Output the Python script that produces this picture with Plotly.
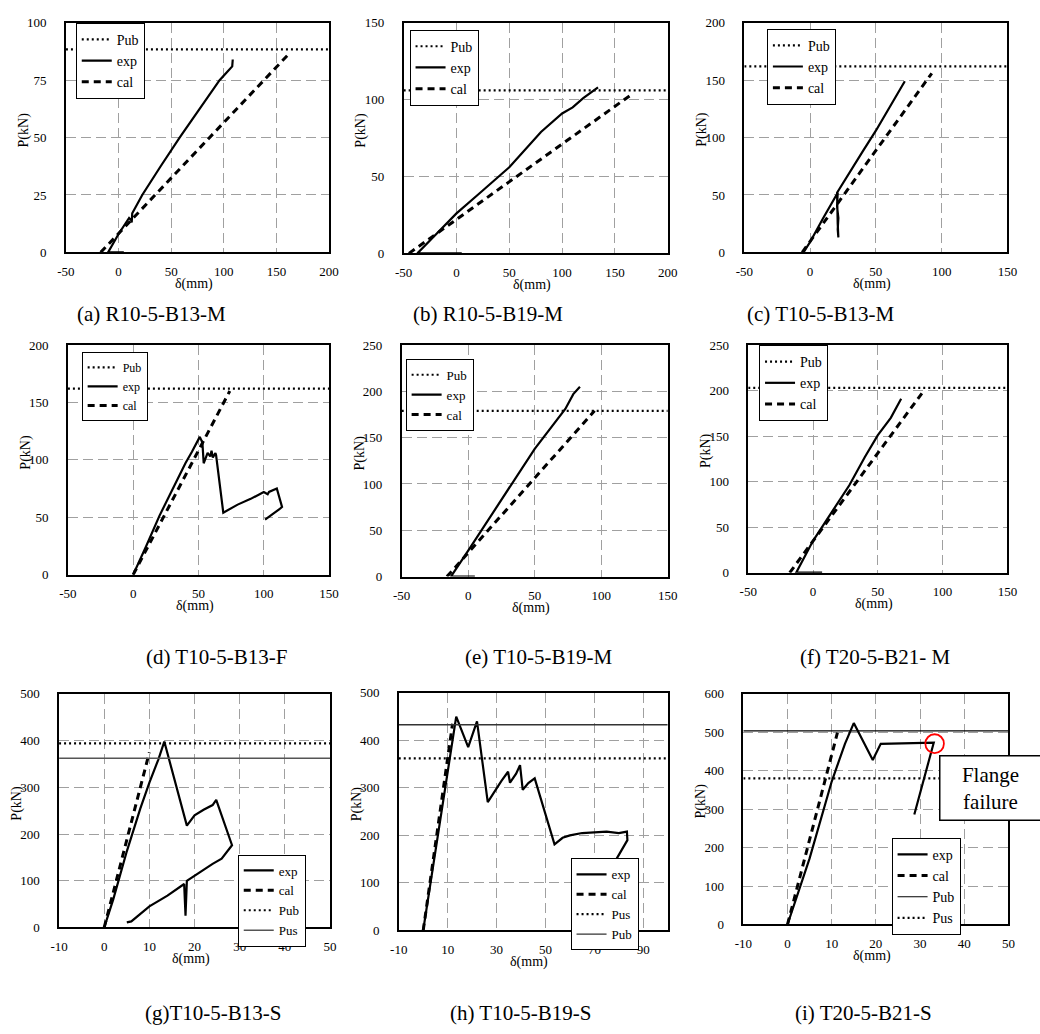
import plotly.graph_objects as go

W, H = 1040, 1034
FONT = "Liberation Serif, Times New Roman, serif"

# ---------------- data ----------------
captions = ["(a) R10-5-B13-M", "(b) R10-5-B19-M", "(c) T10-5-B13-M",
            "(d) T10-5-B13-F", "(e) T10-5-B19-M", "(f) T20-5-B21- M",
            "(g)T10-5-B13-S", "(h) T10-5-B19-S", "(i) T20-5-B21-S"]

a_exp_x = [5, -10, 0, 10, 12, 12.5, 13, 22.5, 40, 58, 77, 96, 104, 108, 108.5]
a_exp_y = [0, 0, 8, 15, 14, 13, 17, 25, 37.5, 50, 62.5, 75, 79, 81, 84]
a_cal_x = [-17, 163]
a_cal_y = [0, 87]
a_pub = 88.4

b_exp_x = [5, -37, -20, 0, 20, 50, 80, 100, 110, 120, 134]
b_exp_y = [0, 0, 12, 26, 38, 56, 79, 91, 95, 101, 108]
b_cal_x = [-45, 165]
b_cal_y = [0, 103]
b_pub = 106

c_exp_x = [-5, 0, 10, 20, 21, 20.5, 21.5, 21, 21.5, 21, 20.5, 30, 40, 50, 60, 72]
c_exp_y = [0, 9, 30, 50, 52, 40, 30, 20, 13, 25, 52, 70, 88, 106, 126, 149]
c_cal_x = [-6, 92.5]
c_cal_y = [0, 156]
c_pub = 162

d_exp_x = [0, 5, 10, 20, 30, 40, 45, 51, 53, 54, 57, 59, 60, 61, 63, 63.5, 69, 80, 90,
           100, 103, 104, 110, 114, 112, 101]
d_exp_y = [0, 12, 25, 51, 74, 97, 107, 120, 115, 97, 106, 103, 108, 102, 106, 104, 54, 61, 66,
           72, 70, 72, 75, 59, 57, 48]
d_cal_x = [0, 74]
d_cal_y = [0, 160]
d_pub = 162

e_exp_x = [5, -13, 0, 25, 50, 73, 79, 84]
e_exp_y = [0, 0, 28, 83, 138, 181, 197, 205]
e_cal_x = [-16, 95]
e_cal_y = [0, 179]
e_pub = 179

f_exp_x = [7, -13, 0, 14, 28, 40, 50, 60, 68]
f_exp_y = [0, 0, 35, 65, 96, 127, 151, 170, 191]
f_cal_x = [-18, 84]
f_cal_y = [0, 197]
f_pub = 203

g_exp_x = [0, 2, 5, 8, 10, 12, 13.3, 18.3, 20, 22, 24, 24.8, 28.3, 26, 24, 18.3, 18, 17.7,
           14, 10, 6, 5]
g_exp_y = [0, 60, 163, 255, 310, 360, 398, 218, 240, 252, 262, 273, 176, 147, 136, 100, 25, 93,
           68, 45, 13, 11]
g_cal_x = [0, 10]
g_cal_y = [0, 375]
g_pub = 394
g_pus = 362

h_exp_x = [0, 5, 10, 13.5, 18.4, 21, 22, 26.4, 30, 32, 34.7, 35.5, 38, 39.6, 40.7, 43, 45.6,
           53.7, 57, 60, 65, 70, 75, 80, 83.3, 83.5, 79, 74]
h_exp_y = [0, 165, 330, 450, 386, 425, 440, 270, 300, 315, 334, 311, 330, 348, 296, 310, 320,
           181, 195, 200, 205, 207, 208, 205, 208, 190, 150, 110]
h_cal_x = [0, 12]
h_cal_y = [0, 435]
h_pus = 362
h_pub = 433

i_exp_x = [0, 5, 10, 13, 15, 19.3, 21.1, 33.1, 28.7]
i_exp_y = [0, 172, 372, 470, 524, 428, 470, 473, 286]
i_cal_x = [0, 11.3]
i_cal_y = [0, 499]
i_pub = 504
i_pus = 380

x_ranges = [(-50, 200), (-50, 200), (-50, 150), (-50, 150), (-50, 150), (-50, 150),
            (-10, 50), (-10, 100), (-10, 50)]
x_ticks = [[-50, 0, 50, 100, 150, 200], [-50, 0, 50, 100, 150, 200],
           [-50, 0, 50, 100, 150], [-50, 0, 50, 100, 150], [-50, 0, 50, 100, 150],
           [-50, 0, 50, 100, 150], [-10, 0, 10, 20, 30, 40, 50],
           [-10, 10, 30, 50, 70, 90], [-10, 0, 10, 20, 30, 40, 50]]
y_ranges = [(0, 100), (0, 150), (0, 200), (0, 200), (0, 250), (0, 250),
            (0, 500), (0, 500), (0, 600)]
y_dticks = [25, 50, 50, 50, 50, 50, 100, 100, 100]

# ---------------- layout geometry (pixels) ----------------
boxes = [(58, 326, 16, 249), (402, 671, 16, 250), (749, 1017, 16, 249),
         (60, 326, 343, 576), (400, 671, 343, 578), (753, 1017, 343, 574),
         (51, 327, 697, 934), (397, 671, 696, 937), (748, 1018, 697, 931)]
cap_pos = [(145, 312), (488, 312), (827, 312),
           (211, 660), (539, 660), (882, 660),
           (208, 1021), (521, 1021), (870, 1021)]
leg_pos = [(68, 16), (408, 23), (772, 22), (74, 350), (404, 357), (764, 343),
           (233, 860), (572, 864), (899, 843)]

EXP = dict(color="black", width=2.2)
CAL = dict(color="black", width=3, dash="7px,5px")
DOT = dict(color="black", width=2.2, dash="2px,3px")
THIN = dict(color="#333333", width=1.3)

fig = go.Figure()

def add(i, name, x, y, line):
    sfx = "" if i == 0 else str(i + 1)
    fig.add_trace(go.Scatter(x=x, y=y, mode="lines", name=name, line=line,
                             xaxis="x" + sfx, yaxis="y" + sfx, legend="legend" + sfx))

top = [(a_exp_x, a_exp_y, a_cal_x, a_cal_y, a_pub),
       (b_exp_x, b_exp_y, b_cal_x, b_cal_y, b_pub),
       (c_exp_x, c_exp_y, c_cal_x, c_cal_y, c_pub),
       (d_exp_x, d_exp_y, d_cal_x, d_cal_y, d_pub),
       (e_exp_x, e_exp_y, e_cal_x, e_cal_y, e_pub),
       (f_exp_x, f_exp_y, f_cal_x, f_cal_y, f_pub)]
for i, (ex, ey, cx, cy, pub) in enumerate(top):
    xr = list(x_ranges[i])
    add(i, "Pub", xr, [pub, pub], DOT)
    add(i, "exp", ex, ey, EXP)
    add(i, "cal", cx, cy, CAL)

# (g)
add(6, "exp", g_exp_x, g_exp_y, EXP)
add(6, "cal", g_cal_x, g_cal_y, CAL)
add(6, "Pub", list(x_ranges[6]), [g_pub, g_pub], DOT)
add(6, "Pus", list(x_ranges[6]), [g_pus, g_pus], dict(color="#555555", width=1.5))
# (h)
add(7, "exp", h_exp_x, h_exp_y, EXP)
add(7, "cal", h_cal_x, h_cal_y, CAL)
add(7, "Pus", list(x_ranges[7]), [h_pus, h_pus], DOT)
add(7, "Pub", list(x_ranges[7]), [h_pub, h_pub], THIN)
# (i)
add(8, "exp", i_exp_x, i_exp_y, EXP)
add(8, "cal", i_cal_x, i_cal_y, CAL)
add(8, "Pub", list(x_ranges[8]), [i_pub, i_pub], dict(color="black", width=1.2))
add(8, "Pus", list(x_ranges[8]), [i_pus, i_pus], DOT)

layout = dict(width=W, height=H, margin=dict(l=0, r=0, t=0, b=0),
              paper_bgcolor="white", plot_bgcolor="white",
              font=dict(family=FONT, color="black"))
annotations = []
for i in range(9):
    sfx = "" if i == 0 else str(i + 1)
    l, r, t, b = boxes[i]
    common = dict(showgrid=True, gridcolor="#a0a0a0", gridwidth=1, griddash="10px,5px",
                  showline=True, linecolor="black", linewidth=1.5, mirror=True,
                  ticks="", zeroline=False, tickfont=dict(family=FONT, size=13, color="black"))
    xt = x_ticks[i]
    layout["xaxis" + sfx] = dict(domain=[l / W, r / W], range=list(x_ranges[i]),
                                 tickmode="array", tickvals=xt,
                                 ticktext=[str(v) for v in xt],
                                 anchor="y" + sfx, ticklabelstandoff=6, **common)
    layout["yaxis" + sfx] = dict(domain=[1 - b / H, 1 - t / H], range=list(y_ranges[i]),
                                 tick0=0, dtick=y_dticks[i],
                                 anchor="x" + sfx, ticklabelstandoff=15, **common)
    lx, ly = leg_pos[i]
    fs = 14 if i in (0, 1, 2, 5, 8) else (12 if i == 3 else 13)
    layout["legend" + sfx] = dict(x=lx / W, y=1 - ly / H, xanchor="left", yanchor="top",
                                  bgcolor="white", bordercolor="black", borderwidth=1,
                                  font=dict(family=FONT, size=fs, color="black"),
                                  tracegroupgap=0)
    cx, cy = cap_pos[i]
    annotations.append(dict(text=captions[i], x=cx / W, y=1 - cy / H, xref="paper",
                            yref="paper", showarrow=False, xanchor="center", yanchor="middle",
                            font=dict(family=FONT, size=21, color="black")))
    annotations.append(dict(text="δ(mm)", x=((l + r) / 2 - 4) / W, y=1 - (b + 32) / H,
                            xref="paper", yref="paper", showarrow=False,
                            xanchor="center", yanchor="middle",
                            font=dict(family=FONT, size=14, color="black")))
    annotations.append(dict(text="P(kN)", x=(l - 43) / W, y=1 - ((t + b) / 2 - 8) / H,
                            xref="paper", yref="paper", showarrow=False, textangle=-90,
                            xanchor="center", yanchor="middle",
                            font=dict(family=FONT, size=14, color="black")))

annotations.append(dict(text="Flange<br>failure", x=1000 / W, y=1 - 793 / H, xref="paper",
                        yref="paper", showarrow=False, xanchor="center", yanchor="middle",
                        bordercolor="black", borderwidth=1.5, bgcolor="white",
                        borderpad=6, width=88, align="center",
                        font=dict(family=FONT, size=21, color="black")))
layout["annotations"] = annotations
layout["shapes"] = [dict(type="circle", xref="x9", yref="y9", x0=31.2, x1=35.4, y0=446, y1=495,
                         line=dict(color="red", width=1.8))]
fig.update_layout(**layout)
fig.write_html("out.html", config={"displayModeBar": False},
               post_script="document.body.style.margin='0';document.body.style.overflow='hidden';")
